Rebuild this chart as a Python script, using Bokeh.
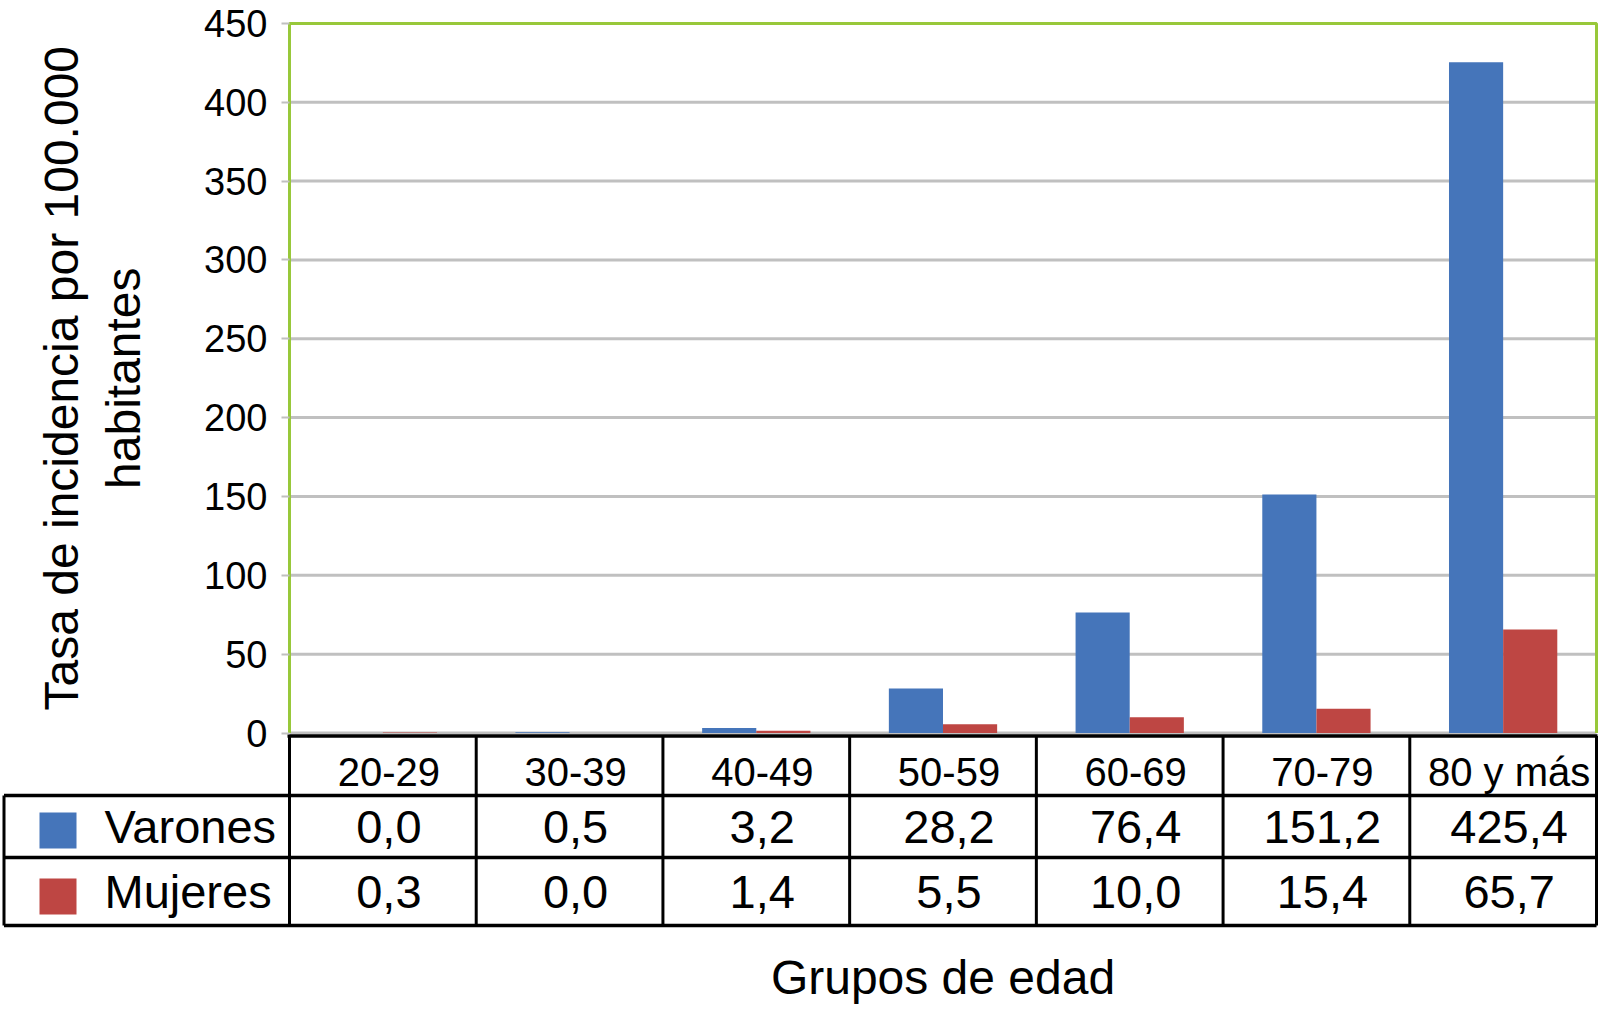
import numpy as np
from bokeh.plotting import figure
from bokeh.models import Range1d, FixedTicker, LinearAxis, ColumnDataSource
from bokeh.transform import dodge
from bokeh.core.properties import value
from bokeh.embed import file_html
from bokeh.resources import INLINE

# ---------------- data ----------------
categories = ["20-29", "30-39", "40-49", "50-59", "60-69", "70-79", "80 y más"]
series_names = ["Varones", "Mujeres"]
varones = [0.0, 0.5, 3.2, 28.2, 76.4, 151.2, 425.4]
mujeres = [0.3, 0.0, 1.4, 5.5, 10.0, 15.4, 65.7]
y_ticks = [0, 50, 100, 150, 200, 250, 300, 350, 400, 450]
y_title_lines = ["Tasa de incidencia por 100.000", "habitantes"]
x_title = "Grupos de edad"

# ---------------- style ----------------
BLUE = "#4575BA"
RED = "#BE4643"
GREEN = "#98C83A"
GRID = "#C0C0C0"
FONT = "Liberation Sans"
colors = [BLUE, RED]


def fmt(v):
    return f"{v:.1f}".replace(".", ",")


# ---------------- layout (pixels) ----------------
W, H = 1599, 1011
X0, XN = 289.0, 1596.0           # x of category axis start / end
n = len(categories)
ppx = (XN - X0) / n
Y0, YTOP = 732.5, 22.9           # y of value 0 / value 450
ymax = y_ticks[-1]
ppu = (Y0 - YTOP) / ymax


def px2x(px):
    return (px - X0) / ppx


def py2y(py):
    return (Y0 - py) / ppu


TXT_OFF = 6 / ppx

p = figure(width=W, height=H,
           x_range=Range1d(px2x(0), px2x(W)),
           y_range=Range1d(py2y(H), py2y(0)),
           output_backend="svg", toolbar_location=None,
           x_axis_location=None, y_axis_location=None,
           min_border_left=0, min_border_right=0, min_border_top=0, min_border_bottom=0)
p.outline_line_color = None
p.background_fill_color = "white"
p.border_fill_color = "white"
p.xgrid.visible = False
p.ygrid.visible = False

# value axis inside the frame at the start of the category axis
yaxis = LinearAxis(fixed_location=0, ticker=FixedTicker(ticks=y_ticks))
yaxis.axis_line_color = None
yaxis.major_tick_out = 8
yaxis.major_tick_in = 0
yaxis.major_tick_line_color = GRID
yaxis.major_tick_line_width = 2
yaxis.minor_tick_line_color = None
yaxis.major_label_text_font = FONT
yaxis.major_label_text_font_size = "38px"
yaxis.major_label_text_color = "black"
yaxis.major_label_standoff = 14
p.add_layout(yaxis, "left")

# horizontal gridlines at the tick values
p.segment(x0=[0] * len(y_ticks), y0=y_ticks, x1=[n] * len(y_ticks), y1=y_ticks,
          line_color=GRID, line_width=3)

# bars
src = ColumnDataSource(dict(x=np.arange(n) + 0.5, cat=categories,
                            varones=varones, mujeres=mujeres))
bw = 0.29
p.vbar(x=dodge("x", -bw / 2), top="varones", bottom=0, width=bw, source=src,
       fill_color=BLUE, line_color=None)
p.vbar(x=dodge("x", bw / 2), top="mujeres", bottom=0, width=bw, source=src,
       fill_color=RED, line_color=None)

# plot area border (left, top, right)
p.line(x=[0, 0, n, n], y=[0, ymax, ymax, 0], line_color=GREEN, line_width=3)

# ---------------- data table ----------------
y_hdr_top = py2y(735.5)
h_rows = [py2y(795), py2y(857), py2y(925)]
xl = px2x(3.5)
p.segment(x0=[px2x(287)], y0=[y_hdr_top], x1=[n + 1 / ppx], y1=[y_hdr_top],
          line_color="black", line_width=3.5)
p.segment(x0=[xl] * 3, y0=h_rows, x1=[n] * 3, y1=h_rows,
          line_color="black", line_width=3.5)
v_x = list(range(n + 1))
p.segment(x0=v_x, y0=[y_hdr_top] * len(v_x), x1=v_x, y1=[h_rows[-1]] * len(v_x),
          line_color="black", line_width=3)
p.segment(x0=[xl], y0=[h_rows[0]], x1=[xl], y1=[h_rows[-1]],
          line_color="black", line_width=3)

# header row
p.text(x=list(np.arange(n) + 0.5 + TXT_OFF), y=[py2y(771)] * n, text=categories,
       text_align="center", text_baseline="middle", text_font=value(FONT),
       text_font_size="40px", text_color="black")

# series rows
row_c = [py2y(826), py2y(891)]
p.rect(x=[px2x(57.5)] * 2, y=[py2y(830), py2y(896)],
       width=37, height=36, width_units="screen", height_units="screen",
       fill_color=colors, line_color=None)
p.text(x=[px2x(104)] * 2, y=row_c, text=series_names, text_align="left",
       text_baseline="middle", text_font=value(FONT), text_font_size="47px",
       text_color="black")
for vals, yc in zip([varones, mujeres], row_c):
    p.text(x=list(np.arange(n) + 0.5 + TXT_OFF), y=[yc] * n,
           text=[fmt(v) for v in vals], text_align="center", text_baseline="middle",
           text_font=value(FONT), text_font_size="47px", text_color="black")

# ---------------- titles ----------------
p.text(x=[n / 2], y=[py2y(976.5)], text=[x_title], text_align="center",
       text_baseline="middle", text_font=value(FONT), text_font_size="48px",
       text_color="black")
p.text(x=[px2x(61), px2x(123)], y=[ymax / 2] * 2, text=y_title_lines,
       angle=np.pi / 2, text_align="center", text_baseline="middle",
       text_font=value(FONT), text_font_size="48px", text_color="black")

open("out.html", "w").write(file_html(p, INLINE))
